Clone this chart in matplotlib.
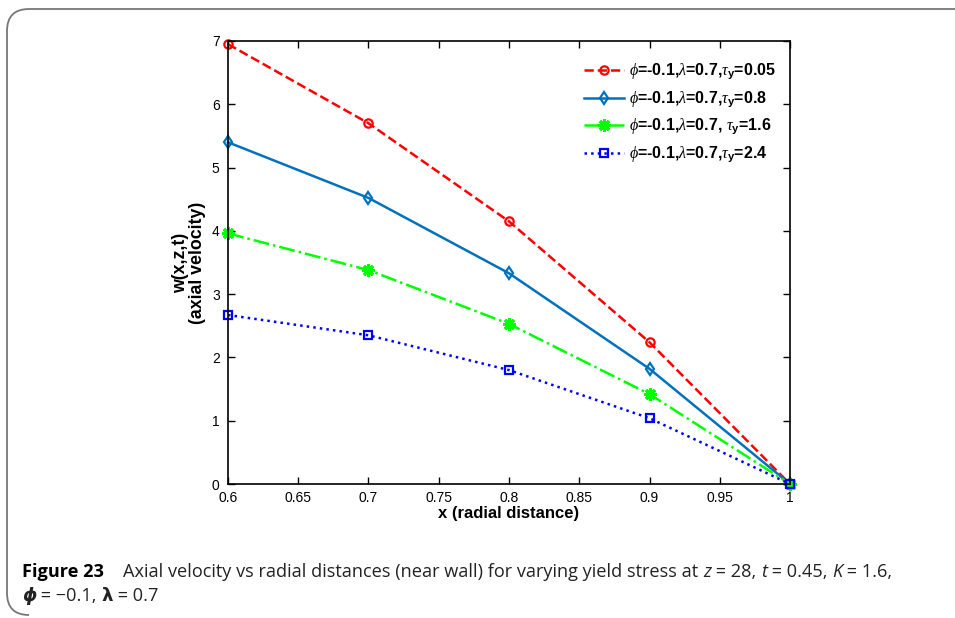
import matplotlib
matplotlib.use("Agg")
import matplotlib.pyplot as plt
from matplotlib.path import Path
from matplotlib.patches import PathPatch

x = [0.6, 0.7, 0.8, 0.9, 1.0]
w_005 = [6.95, 5.70, 4.15, 2.24, 0.0]
w_08 = [5.40, 4.52, 3.33, 1.82, 0.0]
w_16 = [3.96, 3.38, 2.53, 1.42, 0.0]
w_24 = [2.67, 2.35, 1.80, 1.04, 0.0]
labels = [r"$\phi$=-0.1,$\lambda$=0.7,$\tau_\mathbf{y}$=0.05",
          r"$\phi$=-0.1,$\lambda$=0.7,$\tau_\mathbf{y}$=0.8",
          r"$\phi$=-0.1,$\lambda$=0.7, $\tau_\mathbf{y}$=1.6",
          r"$\phi$=-0.1,$\lambda$=0.7,$\tau_\mathbf{y}$=2.4"]
xticks = [0.6, 0.65, 0.7, 0.75, 0.8, 0.85, 0.9, 0.95, 1.0]
xticklabels = ["0.6", "0.65", "0.7", "0.75", "0.8", "0.85", "0.9", "0.95", "1"]
yticks = list(range(8))

cap_font = "Open Sans"
plt.rcParams["font.family"] = ["Liberation Sans", "DejaVu Sans"]
plt.rcParams["mathtext.fontset"] = "custom"
plt.rcParams["mathtext.rm"] = "Liberation Serif"
plt.rcParams["mathtext.it"] = "Liberation Serif:italic"
plt.rcParams["mathtext.bf"] = "Liberation Sans:bold"

fig = plt.figure(figsize=(9.55, 6.18), dpi=100)
ax = fig.add_axes([228 / 955, 1 - 484 / 618, 562 / 955, 443 / 618])

styles = [
    dict(color="#ff0000", ls="--", marker="o", mfc="none", ms=6, mew=1.6),
    dict(color="#0072bd", ls="-", marker="d", mfc="none", ms=6, mew=1.6),
    dict(color="#00ff00", ls="-.", marker=(8, 2, 0), mfc="#00ff00", ms=9, mew=2.2),
    dict(color="#0000ff", ls=":", marker="s", mfc="none", ms=6, mew=1.6),
]
for ys, st, lab in zip([w_005, w_08, w_16, w_24], styles, labels):
    ax.plot(x, ys, lw=1.8, label=lab, clip_on=False, **st)

ax.set_xlim(0.6, 1.0)
ax.set_ylim(0, 7)
ax.set_xticks(xticks)
ax.set_xticklabels(xticklabels)
ax.set_yticks(yticks)
ax.tick_params(direction="in", top=True, right=True, labelsize=10, length=5, width=1)
ax.tick_params(axis="x", pad=5)
ax.tick_params(axis="y", pad=6)
for s in ax.spines.values():
    s.set_linewidth(1.2)
ax.set_xlabel("x (radial distance)", fontsize=12, fontweight="bold", labelpad=1)
ax.set_ylabel("w(x,z,t)\n(axial velocity)", fontsize=12.8, fontweight="bold", labelpad=4, linespacing=1.0)

leg = ax.legend(loc="upper right", frameon=False, prop={"weight": "bold", "size": 11.5},
                handlelength=2.5, handletextpad=0.3, labelspacing=0.45,
                bbox_to_anchor=(1.0, 0.985))

# rounded figure frame (left + top, open on right and bottom)
W, H = 955, 618
r = 22
verts = [(W, H - 9), (7 + r, H - 9), (7, H - 9), (7, H - 9 - r), (7, 3 + r), (7, 3), (7 + r, 3)]
codes = [Path.MOVETO, Path.LINETO, Path.CURVE3, Path.CURVE3, Path.LINETO, Path.CURVE3, Path.CURVE3]
frame = PathPatch(Path([(vx / W, vy / H) for vx, vy in verts], codes), fill=False,
                  edgecolor="#777777", lw=1.3, transform=fig.transFigure)
fig.patches.append(frame)

# caption, laid out chunk by chunk
renderer = fig.canvas.get_renderer()


def run(x0, y0, chunks, size=13):
    xp = x0
    for txt, kw in chunks:
        opts = dict(fontsize=size, family=cap_font, color="#222222")
        opts.update(kw)
        t = fig.text(xp / W, 1 - y0 / H, txt, **opts)
        xp = t.get_window_extent(renderer).x1


run(22, 577, [("Figure 23", dict(fontweight="bold", color="black")),
              ("    Axial velocity vs radial distances (near wall) for varying yield stress at ", {}),
              ("z", dict(style="italic")), (" = 28, ", {}),
              ("t", dict(style="italic")), (" = 0.45, ", {}),
              ("K", dict(style="italic")), (" = 1.6,", {})], size=13.1)
run(22, 601, [("\u03d5", dict(style="italic", fontweight="bold", family="DejaVu Sans")),
              (" = \u22120.1, ", {}),
              ("\u03bb", dict(fontweight="bold", family="DejaVu Sans")),
              (" = 0.7", {})], size=13.1)

fig.savefig("out.png", dpi=100)
